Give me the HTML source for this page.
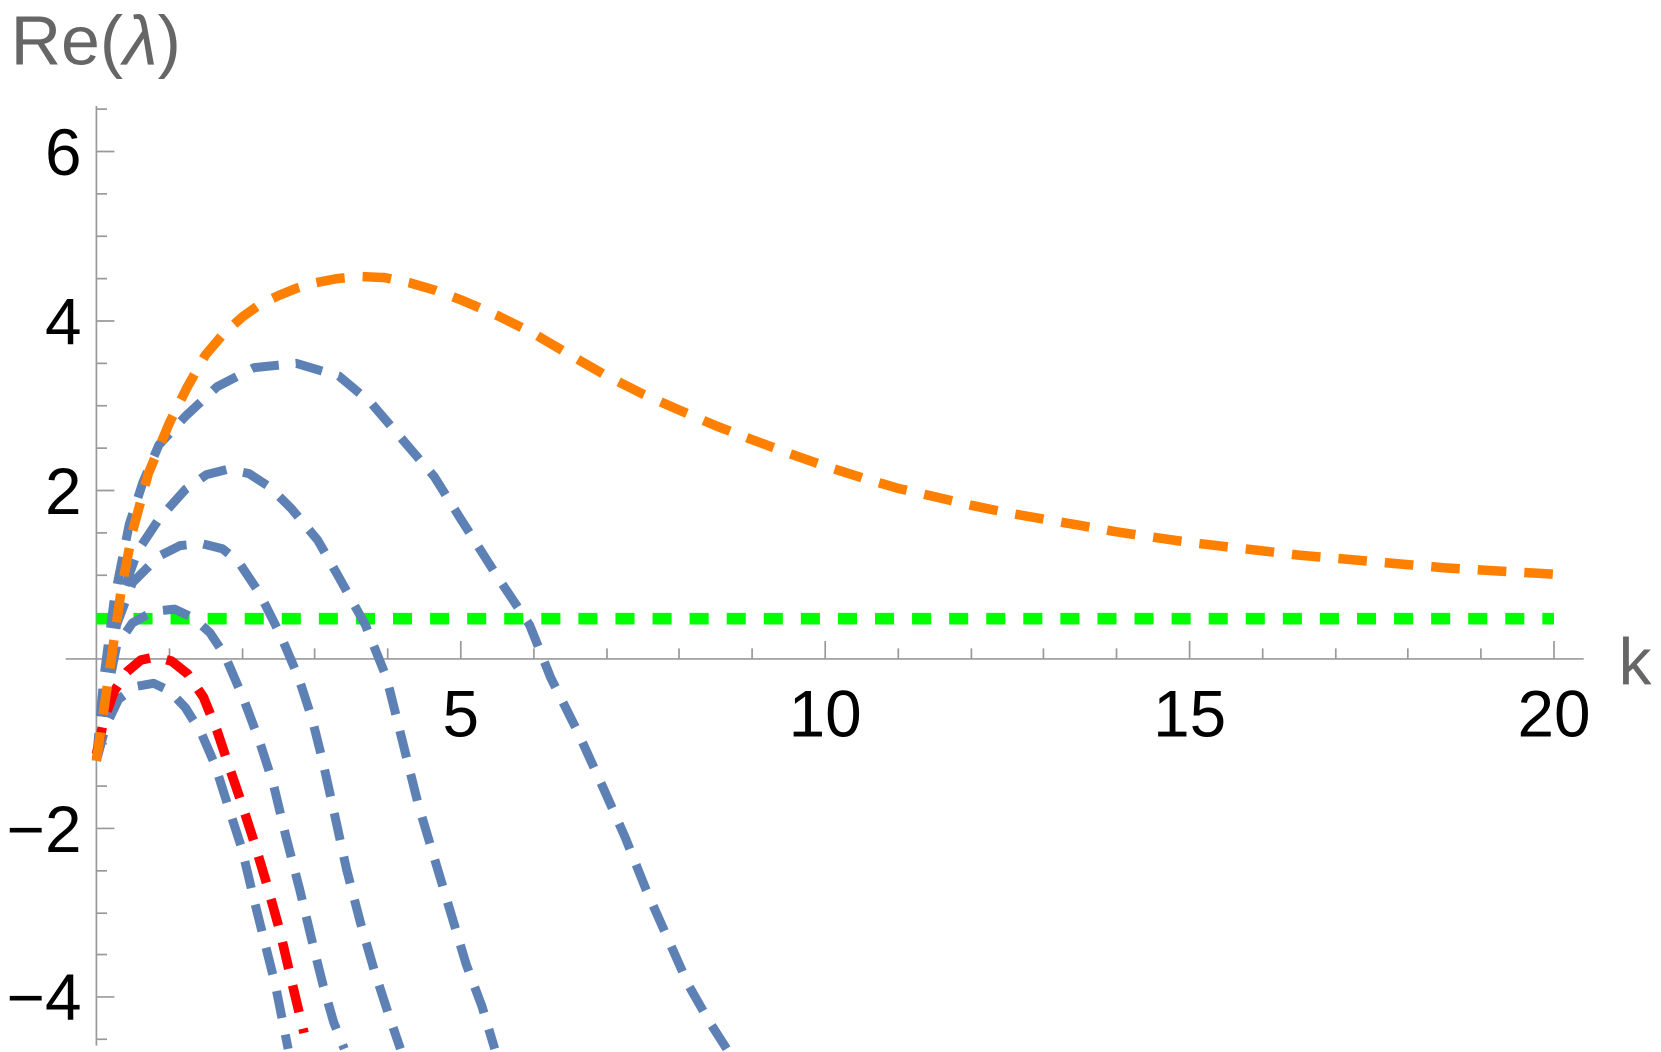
<!DOCTYPE html>
<html><head><meta charset="utf-8"><style>
html,body{margin:0;padding:0;background:#fff;}
svg{display:block;}
text{font-family:"Liberation Sans",Arial,sans-serif;}
</style></head><body>
<svg width="1661" height="1052" viewBox="0 0 1568 993" preserveAspectRatio="none" xmlns="http://www.w3.org/2000/svg">
<rect width="1568" height="993" fill="#fff"/>
<g stroke="#999" stroke-width="1.6" fill="none">
<line x1="91" y1="100" x2="91" y2="987"/>
<line x1="62" y1="622" x2="1495" y2="622"/>
<line x1="91" y1="103" x2="101" y2="103"/>
<line x1="91" y1="143" x2="108" y2="143"/>
<line x1="91" y1="183" x2="101" y2="183"/>
<line x1="91" y1="223" x2="101" y2="223"/>
<line x1="91" y1="263" x2="101" y2="263"/>
<line x1="91" y1="303" x2="108" y2="303"/>
<line x1="91" y1="343" x2="101" y2="343"/>
<line x1="91" y1="383" x2="101" y2="383"/>
<line x1="91" y1="423" x2="101" y2="423"/>
<line x1="91" y1="463" x2="108" y2="463"/>
<line x1="91" y1="503" x2="101" y2="503"/>
<line x1="91" y1="543" x2="101" y2="543"/>
<line x1="91" y1="582" x2="101" y2="582"/>
<line x1="91" y1="662" x2="101" y2="662"/>
<line x1="91" y1="702" x2="101" y2="702"/>
<line x1="91" y1="742" x2="101" y2="742"/>
<line x1="91" y1="782" x2="108" y2="782"/>
<line x1="91" y1="822" x2="101" y2="822"/>
<line x1="91" y1="862" x2="101" y2="862"/>
<line x1="91" y1="901" x2="101" y2="901"/>
<line x1="91" y1="941" x2="108" y2="941"/>
<line x1="91" y1="981" x2="101" y2="981"/>
<line x1="160" y1="622" x2="160" y2="612"/>
<line x1="229" y1="622" x2="229" y2="612"/>
<line x1="297" y1="622" x2="297" y2="612"/>
<line x1="366" y1="622" x2="366" y2="612"/>
<line x1="435" y1="622" x2="435" y2="605"/>
<line x1="504" y1="622" x2="504" y2="612"/>
<line x1="573" y1="622" x2="573" y2="612"/>
<line x1="641" y1="622" x2="641" y2="612"/>
<line x1="710" y1="622" x2="710" y2="612"/>
<line x1="779" y1="622" x2="779" y2="605"/>
<line x1="848" y1="622" x2="848" y2="612"/>
<line x1="917" y1="622" x2="917" y2="612"/>
<line x1="985" y1="622" x2="985" y2="612"/>
<line x1="1054" y1="622" x2="1054" y2="612"/>
<line x1="1123" y1="622" x2="1123" y2="605"/>
<line x1="1192" y1="622" x2="1192" y2="612"/>
<line x1="1261" y1="622" x2="1261" y2="612"/>
<line x1="1329" y1="622" x2="1329" y2="612"/>
<line x1="1398" y1="622" x2="1398" y2="612"/>
<line x1="1467" y1="622" x2="1467" y2="605"/>
</g>
<g font-size="62" fill="#000">
<text x="77" y="165" text-anchor="end">6</text>
<text x="77" y="325" text-anchor="end">4</text>
<text x="77" y="485" text-anchor="end">2</text>
<text x="77" y="804" text-anchor="end">−2</text>
<text x="77" y="963" text-anchor="end">−4</text>
<text x="435" y="695" text-anchor="middle">5</text>
<text x="779" y="695" text-anchor="middle">10</text>
<text x="1123" y="695" text-anchor="middle">15</text>
<text x="1467" y="695" text-anchor="middle">20</text>
</g>
<text x="1528" y="646" font-size="62" fill="#666">k</text>
<text x="10" y="61" font-size="66" fill="#666">Re(<tspan font-style="italic">λ</tspan>)</text>
<line x1="91" y1="584" x2="1467" y2="584" stroke="#00ff00" stroke-width="11" stroke-dasharray="18 17"/>
<g fill="none" stroke="#5e81b5" stroke-width="8.5" stroke-dasharray="26 16" stroke-linejoin="round">
<polyline points="91,718 98,640 108,565 122,495 135,455 150,420 175,393 205,365 240,347 280,343 320,355 350,380 380,415 410,450 435,490 470,545 500,590 520,640 545,690 570,745 590,790 610,840 630,885 650,930 670,965 686,990"/>
<polyline points="91,718 100,640 112,570 130,520 150,490 175,462 195,448 215,443 235,447 255,460 275,480 300,510 320,545 345,590 365,640 380,700 395,760 410,810 425,860 440,910 455,950 467,990"/>
<polyline points="91,718 100,650 110,590 125,550 150,525 170,515 190,513 210,518 225,530 245,560 265,600 282,640 295,680 305,720 315,765 327,820 340,870 353,915 366,955 378,990"/>
<polyline points="91,718 100,660 110,610 125,588 145,577 165,575 182,583 198,597 212,618 230,660 245,700 258,740 270,790 283,840 295,890 305,930 315,965 325,990"/>
<polyline points="91,718 100,685 112,660 128,648 145,645 160,652 175,668 190,692 203,722 215,760 228,800 240,850 250,890 260,930 272,990"/>
</g>
<polyline fill="none" stroke="#ff0000" stroke-width="9" stroke-dasharray="26 16" stroke-linejoin="round" points="91,712 98,680 108,652 120,634 133,623 147,620 162,624 177,636 192,658 205,690 215,720 227,755 240,795 252,835 264,878 275,925 287,975"/>
<polyline fill="none" stroke="#ff8000" stroke-width="9" stroke-dasharray="27 17" stroke-linejoin="round" points="91,718 98,670 105,622 114,560 125,502 140,447 160,399 177,365 194,335 211,315 229,299 246,287 263,279 280,272 297,267 318,263 339,261 363,262 387,267 411,274 435,283 470,298 504,315 538,335 573,355 607,372 641,387 676,402 710,415 745,428 779,440 814,451 848,461 883,469 917,477 951,484 985,490 1020,496 1054,502 1088,507 1123,512 1157,516 1192,520 1226,524 1261,527 1295,530 1329,533 1364,536 1398,538 1432,540 1467,542"/>
</svg>
</body></html>
